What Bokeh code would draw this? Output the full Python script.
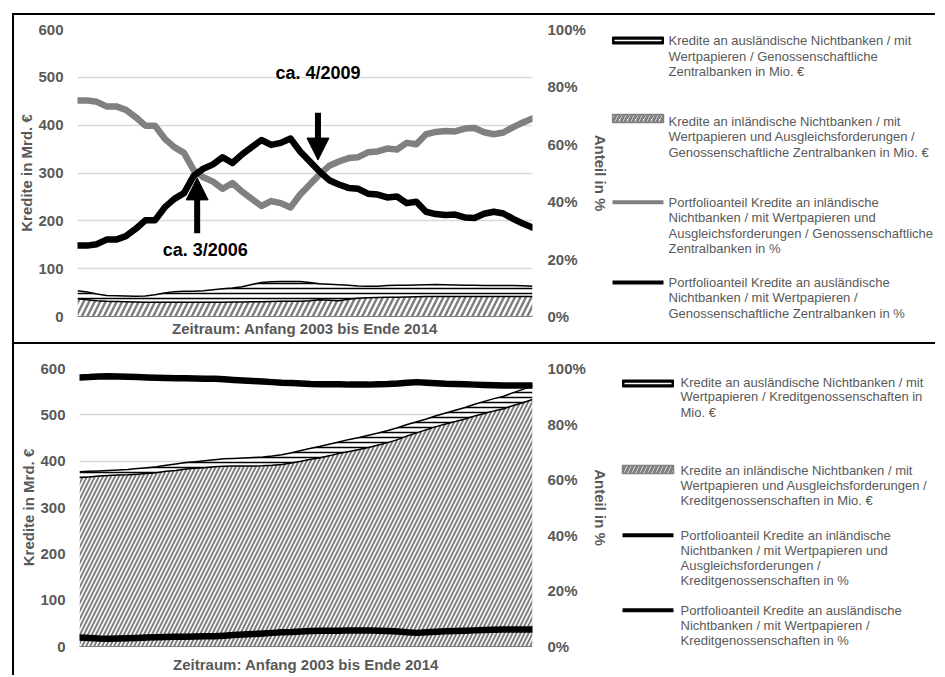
from bokeh.plotting import figure
from bokeh.models import (Range1d, LinearAxis, FixedTicker, Arrow, NormalHead, ColumnDataSource,
                          PrintfTickFormatter)
from bokeh.layouts import row, column
from bokeh.core.properties import value
from bokeh.embed import file_html
from bokeh.resources import INLINE

# ---------------- data ----------------
zeit = [2003 + i / 4 for i in range(48)]  # quarterly, Anfang 2003 .. Ende 2014

# Genossenschaftliche Zentralbanken (Mrd. €)
gz_inl = [37, 35, 33, 32, 31.5, 31, 30.5, 30, 30, 30, 30, 30, 30, 30, 30, 30, 30.5, 30.5, 31, 31, 31.5, 32, 32, 32,
          33, 35, 34, 33, 36, 38, 39, 39.5, 40, 40.5, 41, 41.5, 42, 42, 42, 42, 42, 42, 42, 42, 42, 42, 42, 42]
gz_ausl = [17, 16, 14, 12, 12, 12, 12, 13, 15.5, 19, 22, 23, 23, 24, 26, 28, 29, 31.5, 36, 40, 41, 41, 41, 41,
           38, 33.5, 33.5, 33.5, 29.5, 26, 24.5, 23.5, 25, 25, 24.5, 24.5, 24.5, 25, 24.5, 24, 23.5, 23.5, 23, 23, 23, 23, 22.5, 21]
# Portfolioanteile (%)
gz_share_inl = [75.3, 75.3, 74.8, 73.2, 73.2, 72.0, 69.5, 66.5, 66.5, 62.0, 59.0, 57.0, 51.0, 48.5, 47.0, 44.5,
                46.5, 43.5, 41.0, 38.5, 40.2, 39.5, 38.0, 42.5, 46.0, 49.5, 52.5, 54.0, 55.2, 55.5, 57.2, 57.5,
                58.5, 58.2, 60.5, 60.0, 63.5, 64.3, 64.6, 64.5, 65.5, 65.7, 64.2, 63.5, 64.1, 66.0, 67.6, 69.0]
gz_share_ausl = [24.7, 24.7, 25.2, 26.8, 26.8, 28.0, 30.5, 33.5, 33.5, 38.0, 41.0, 43.0, 49.0, 51.5, 53.0, 55.5,
                 53.5, 56.5, 59.0, 61.5, 59.8, 60.5, 62.0, 57.5, 54.0, 50.5, 47.5, 46.0, 44.8, 44.5, 42.8, 42.5,
                 41.5, 41.8, 39.5, 40.0, 36.5, 35.7, 35.4, 35.5, 34.5, 34.3, 35.8, 36.5, 35.9, 34.0, 32.4, 31.0]

# Kreditgenossenschaften (Mrd. €)
kg_inl = [365, 366, 368, 369, 370, 370.5, 372, 373.5, 375, 378, 380, 383, 384.5, 386, 388, 389, 389.5, 389.5, 389.5, 390,
          391, 393, 396, 400, 404, 407.5, 412, 417, 421, 425, 429.5, 435, 440, 446.5, 454.5, 461, 468, 474.5, 480, 485.5,
          491, 497.5, 503, 508.5, 513, 520, 526, 533]
kg_ausl = [12, 12, 11, 11, 11, 11.5, 12, 12.5, 13, 13, 14, 14, 14.5, 15, 15, 16, 16.5, 17.5, 18.5, 19, 20, 21, 22, 23,
           24, 24.5, 25, 25, 26, 26, 26.5, 26, 26, 25.5, 24.5, 24, 23, 23.5, 24, 24.5, 25, 25.5, 26, 26.5, 27, 28, 29, 30]
kg_share_inl = [96.8, 96.9, 97.1, 97.2, 97.1, 97.0, 96.9, 96.8, 96.7, 96.6, 96.5, 96.5, 96.4, 96.3, 96.3, 96.1,
                95.9, 95.7, 95.5, 95.3, 95.1, 94.9, 94.8, 94.6, 94.4, 94.3, 94.3, 94.3, 94.2, 94.2, 94.2, 94.3,
                94.4, 94.6, 94.9, 95.1, 94.9, 94.7, 94.5, 94.4, 94.3, 94.2, 94.1, 94.0, 93.9, 93.9, 93.9, 93.9]
kg_share_ausl = [3.2, 3.1, 2.9, 2.8, 2.9, 3.0, 3.1, 3.2, 3.3, 3.4, 3.5, 3.5, 3.6, 3.7, 3.7, 3.9,
                 4.1, 4.3, 4.5, 4.7, 4.9, 5.1, 5.2, 5.4, 5.6, 5.7, 5.7, 5.7, 5.8, 5.8, 5.8, 5.7,
                 5.6, 5.4, 5.1, 4.9, 5.1, 5.3, 5.5, 5.6, 5.7, 5.8, 5.9, 6.0, 6.1, 6.1, 6.1, 6.1]

left_ticks = [0, 100, 200, 300, 400, 500, 600]
right_ticks = [0, 20, 40, 60, 80, 100]

x_title = "Zeitraum: Anfang 2003 bis Ende 2014"
y_title = "Kredite in Mrd. €"
y2_title = "Anteil in %"

annot_text = ["ca. 3/2006", "ca. 4/2009"]
annot_x = [2006.09, 2009.21]

gz_legend = [
    ["Kredite an ausländische Nichtbanken / mit", "Wertpapieren / Genossenschaftliche", "Zentralbanken in Mio. €"],
    ["Kredite an inländische Nichtbanken / mit", "Wertpapieren und Ausgleichsforderungen /",
     "Genossenschaftliche Zentralbanken in Mio. €"],
    ["Portfolioanteil Kredite an inländische", "Nichtbanken / mit Wertpapieren und",
     "Ausgleichsforderungen / Genossenschaftliche", "Zentralbanken in %"],
    ["Portfolioanteil Kredite an ausländische", "Nichtbanken / mit Wertpapieren /",
     "Genossenschaftliche Zentralbanken in %"],
]
kg_legend = [
    ["Kredite an ausländische Nichtbanken / mit", "Wertpapieren / Kreditgenossenschaften in", "Mio. €"],
    ["Kredite an inländische Nichtbanken / mit", "Wertpapieren und Ausgleichsforderungen /",
     "Kreditgenossenschaften in Mio. €"],
    ["Portfolioanteil Kredite an inländische", "Nichtbanken / mit Wertpapieren und", "Ausgleichsforderungen /",
     "Kreditgenossenschaften in %"],
    ["Portfolioanteil Kredite an ausländische", "Nichtbanken / mit Wertpapieren /", "Kreditgenossenschaften in %"],
]

# ---------------- style ----------------
FONT = "Liberation Sans"
TXT = "#595959"
GREY = "#808080"
GRID = "#d9d9d9"
CHART_W = 597
LEG_W = 324


def style_axis(ax, ticks, standoff):
    ax.ticker = FixedTicker(ticks=ticks)
    ax.axis_line_color = None
    ax.major_tick_line_color = None
    ax.minor_tick_line_color = None
    ax.major_tick_out = 0
    ax.major_tick_in = 0
    ax.major_label_standoff = standoff
    ax.major_label_text_font = FONT
    ax.major_label_text_font_style = "bold"
    ax.major_label_text_font_size = "15px"
    ax.major_label_text_color = TXT
    ax.axis_label_text_font = FONT
    ax.axis_label_text_font_style = "bold"
    ax.axis_label_text_font_size = "15px"
    ax.axis_label_text_color = TXT


def make_chart(h, b_left, b_top, b_bottom, inl, ausl, share_inl, share_ausl, inl_line_color,
               hatch_scale, hatch_weight, x_standoff, annotate):
    p = figure(width=CHART_W, height=h, x_range=Range1d(2003, 2014.75), y_range=Range1d(0, 600),
               output_backend="svg", toolbar_location=None,
               min_border_left=b_left, min_border_right=78, min_border_top=b_top, min_border_bottom=b_bottom)
    p.title = None
    p.extra_y_ranges = {"pct": Range1d(0, 100)}
    p.outline_line_color = None
    p.background_fill_color = "white"
    p.border_fill_color = "white"

    p.xgrid.visible = False
    p.ygrid.ticker = FixedTicker(ticks=left_ticks)
    p.ygrid.grid_line_color = GRID
    p.ygrid.grid_line_width = 1.5

    style_axis(p.yaxis[0], left_ticks, 14)
    p.yaxis[0].axis_label = y_title
    p.yaxis[0].axis_label_standoff = 0

    ax2 = LinearAxis(y_range_name="pct", formatter=PrintfTickFormatter(format="%d%%"))
    style_axis(ax2, right_ticks, 15)
    ax2.axis_label = y2_title
    ax2.axis_label_standoff = 3
    p.add_layout(ax2, "right")

    xa = p.xaxis[0]
    style_axis(xa, [], 0)
    xa.axis_line_color = GREY
    xa.axis_line_width = 1
    xa.axis_label = x_title
    xa.axis_label_standoff = x_standoff

    src = ColumnDataSource(dict(x=zeit, inl=inl, ausl=ausl))
    p.varea_stack(["inl", "ausl"], x="x", source=src,
                  fill_color=["white", "white"],
                  hatch_pattern=["/", "-"],
                  hatch_color=["#7f7f7f", "black"],
                  hatch_scale=[hatch_scale, 5],
                  hatch_weight=[hatch_weight, 1.5])
    p.vline_stack(["inl", "ausl"], x="x", source=src, line_color=["black", "black"], line_width=1.5)

    p.line(zeit, share_inl, y_range_name="pct", line_color=inl_line_color, line_width=6.5,
           line_join="round", line_cap="round")
    p.line(zeit, share_ausl, y_range_name="pct", line_color="black", line_width=6.5,
           line_join="round", line_cap="round")

    if annotate:
        head1 = NormalHead(size=22, fill_color="black", line_color="black")
        head2 = NormalHead(size=22, fill_color="black", line_color="black")
        p.add_layout(Arrow(end=head1, x_start=annot_x[0], y_start=29, x_end=annot_x[0], y_end=48.3,
                           y_range_name="pct", line_width=6, line_color="black"))
        p.add_layout(Arrow(end=head2, x_start=annot_x[1], y_start=71, x_end=annot_x[1], y_end=54.5,
                           y_range_name="pct", line_width=6, line_color="black"))
        p.text(x=[2006.3, annot_x[1]], y=[23, 84.7], text=annot_text, y_range_name="pct",
               text_font=value(FONT), text_font_style="bold", text_font_size="18px",
               text_align="center", text_baseline="middle", text_color="black")
    return p


def make_legend(h, labels, sw_x0, txt_x, sw_y, line_ys, share_colors):
    lf = figure(width=LEG_W, height=h, x_range=Range1d(0, LEG_W), y_range=Range1d(h, 0),
                output_backend="svg", toolbar_location=None, x_axis_type=None, y_axis_type=None,
                min_border=0)
    lf.title = None
    lf.outline_line_color = None
    lf.border_fill_color = "white"
    sw_w = 51
    cx = sw_x0 + sw_w / 2
    # item 1: striped area swatch
    lf.rect(x=[cx], y=[sw_y[0]], width=sw_w, height=7, fill_color="black", line_color="black")
    lf.line([sw_x0 + 2, sw_x0 + sw_w - 2], [sw_y[0], sw_y[0]], line_color="white", line_width=1.5)
    # item 2: hatched area swatch
    lf.rect(x=[cx], y=[sw_y[1]], width=sw_w, height=8, fill_color="white", line_color="#7f7f7f",
            line_width=1.5, hatch_pattern="/", hatch_color="#7f7f7f", hatch_scale=8, hatch_weight=3)
    # items 3, 4: lines
    lf.line([sw_x0, sw_x0 + sw_w], [sw_y[2], sw_y[2]], line_color=share_colors[0], line_width=4)
    lf.line([sw_x0, sw_x0 + sw_w], [sw_y[3], sw_y[3]], line_color=share_colors[1], line_width=4)
    xs, ys, ts = [], [], []
    for lines, yy in zip(labels, line_ys):
        for t, y in zip(lines, yy):
            xs.append(txt_x)
            ys.append(y)
            ts.append(t)
    lf.text(x=xs, y=ys, text=ts, text_font=value(FONT), text_font_size="13px", text_color=TXT,
            text_align="left", text_baseline="middle")
    return lf


top_chart = make_chart(327, 63, 14, 26, gz_inl, gz_ausl, gz_share_inl, gz_share_ausl, GREY, 11, 2.5, 3, True)
top_leg = make_legend(327, gz_legend, 1, 57, [25, 103, 186.7, 267],
                      [[25, 40.5, 56], [105.5, 121, 136.7], [186.7, 202, 217.7, 233], [266.7, 282.3, 297.7]],
                      [GREY, "black"])

bot_chart = make_chart(331, 65, 24, 28, kg_inl, kg_ausl, kg_share_inl, kg_share_ausl, "black", 8, 2, 9, False)
bot_leg = make_legend(331, kg_legend, 11, 69, [39, 125, 190.7, 265.7],
                      [[38, 52.3, 68], [125.7, 140.7, 155.7], [190.7, 205.7, 220.7, 236.3], [265.7, 280.7, 296.3]],
                      ["black", "black"])

top = row(top_chart, column(top_leg), styles={"border-top": "2px solid black", "border-left": "2px solid black",
                                              "border-bottom": "2px solid black"})
bottom = row(bot_chart, column(bot_leg), styles={"border-left": "2px solid black"})
page = column(top, bottom, margin=(13, 0, 0, 12))

open("out.html", "w").write(file_html(page, INLINE))
